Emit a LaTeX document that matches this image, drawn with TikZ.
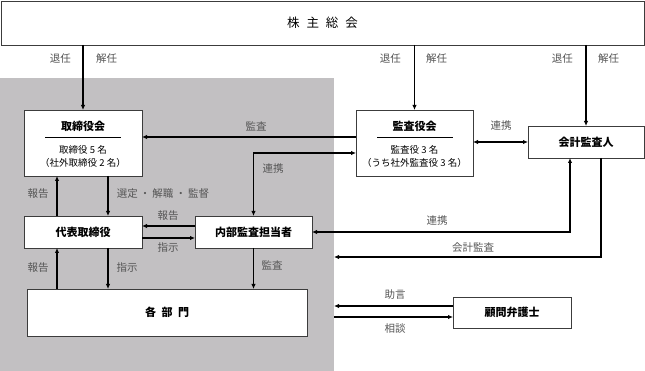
\documentclass[tikz,border=0pt]{standalone}
\usepackage{fontspec}
\setmainfont{Noto Sans CJK JP}
\usetikzlibrary{arrows.meta}
\definecolor{orggray}{RGB}{194,192,194}
\definecolor{lblgray}{RGB}{85,85,85}
\definecolor{boxline}{RGB}{60,60,60}

\begin{document}
\begin{tikzpicture}[x=1pt,y=-1pt,
  box/.style={draw=boxline, line width=0.7pt, fill=white, inner sep=0pt, outer sep=0pt},
  ttl/.style={font=\fontsize{11}{12}\selectfont\bfseries},
  sub/.style={font=\fontsize{9.5}{13}\selectfont, align=center},
  lbl/.style={font=\fontsize{10.5}{12}\selectfont, text=lblgray, inner sep=1pt},
  arr/.style={-{Latex[length=5pt,width=4.5pt]}, line width=1.1pt},
  arrr/.style={{Latex[length=5pt,width=4.5pt]}-{Latex[length=5pt,width=4.5pt]}, line width=1.1pt}]
  \useasboundingbox (0,0) rectangle (645,371);
  % company area (gray)
  \node[fill=orggray, minimum width=334pt, minimum height=293pt, inner sep=0pt, outer sep=0pt] (group) at (167,224.5) {};
  % shareholders meeting
  \node[box, minimum width=643pt, minimum height=44pt, font=\fontsize{12.5}{14}\selectfont] (gm) at (322.5,23) {株\hspace{0.55em}主\hspace{0.55em}総\hspace{0.55em}会};
  % boards
  \node[box, minimum width=118pt, minimum height=66pt] (board) at (83,143) {};
  \node[ttl] (boardT) at (83,126) {取締役会};
  \draw[line width=0.5pt] (45,137) -- (121,137);
  \node[sub] (boardN) at (83,156) {取締役 5 名\\（社外取締役 2 名）};
  \node[box, minimum width=117pt, minimum height=66pt] (kansa) at (414.5,143) {};
  \node[ttl] (kansaT) at (414.5,126) {監査役会};
  \draw[line width=0.5pt] (377,137) -- (453,137);
  \node[sub] (kansaN) at (414.5,156) {監査役 3 名\\（うち社外監査役 3 名）};
  \node[box, ttl, minimum width=116pt, minimum height=32pt] (auditor) at (586,142) {会計監査人};
  % executives and departments
  \node[box, ttl, minimum width=118pt, minimum height=32pt] (rep) at (83,232) {代表取締役};
  \node[box, ttl, minimum width=117pt, minimum height=32pt] (internal) at (253.5,232) {内部監査担当者};
  \node[box, ttl, minimum width=280pt, minimum height=47pt] (depts) at (167,312.5) {各\hspace{0.5em}部\hspace{0.5em}門};
  \node[box, ttl, minimum width=118pt, minimum height=31pt] (lawyer) at (512,312.5) {顧問弁護士};
  % election / dismissal
  \draw[arr] (board.north |- gm.south) -- (board.north);
  \draw[arr] (kansa.north |- gm.south) -- (kansa.north);
  \draw[arr] (auditor.north |- gm.south) -- (auditor.north);
  \foreach \x/\n in {84/a,414/b,586/c} {
    \node[lbl, anchor=east] (ret\n) at (\x-12,59) {退任};
    \node[lbl, anchor=west] (dis\n) at (\x+11,59) {解任};
  }
  % audit relations
  \draw[arr] (kansa.west |- 0,137) -- (board.east |- 0,137);
  \node[lbl] (lAudit1) at (256,126) {監査};
  \draw[arrr] (kansa.west |- 0,153) -| (internal.north);
  \node[lbl] (lCoop1) at (273,169) {連携};
  \draw[arrr] (kansa.east |- auditor.west) -- (auditor.west);
  \node[lbl] (lCoop2) at (501,126) {連携};
  \draw[arrr] (internal.east) -| (auditor.south -| 570,0);
  \node[lbl] (lCoop3) at (437,221) {連携};
  \draw[arr] (auditor.south -| 601,0) |- (group.east |- 0,257);
  \node[lbl] (lAcct) at (473,248) {会計監査};
  % reporting lines
  \draw[arr] (rep.north -| 57,0) -- (board.south -| 57,0);
  \node[lbl] (lRep1) at (38,194) {報告};
  \draw[arr] (board.south -| 108,0) -- (rep.north -| 108,0);
  \node[lbl] (lSel) at (163,194) {選定\hspace{0.2em}・\hspace{0.2em}解職\hspace{0.2em}・\hspace{0.2em}監督};
  \draw[arr] (internal.west |- 0,226) -- (rep.east |- 0,226);
  \node[lbl] (lRep2) at (168,216) {報告};
  \draw[arr] (rep.east |- 0,238) -- (internal.west |- 0,238);
  \node[lbl] (lInst1) at (168,248) {指示};
  \draw[arr] (depts.north -| 57,0) -- (rep.south -| 57,0);
  \node[lbl] (lRep3) at (38,268) {報告};
  \draw[arr] (rep.south -| 108,0) -- (depts.north -| 108,0);
  \node[lbl] (lInst2) at (127,268) {指示};
  \draw[arr] (internal.south) -- (depts.north -| internal.south);
  \node[lbl] (lAudit2) at (272,265) {監査};
  % legal counsel
  \draw[arr] (lawyer.west |- 0,306) -- (group.east |- 0,306);
  \node[lbl] (lAdv) at (395,295) {助言};
  \draw[arr] (group.east |- 0,317) -- (lawyer.west |- 0,317);
  \node[lbl] (lCons) at (395,329) {相談};
\end{tikzpicture}
\end{document}
